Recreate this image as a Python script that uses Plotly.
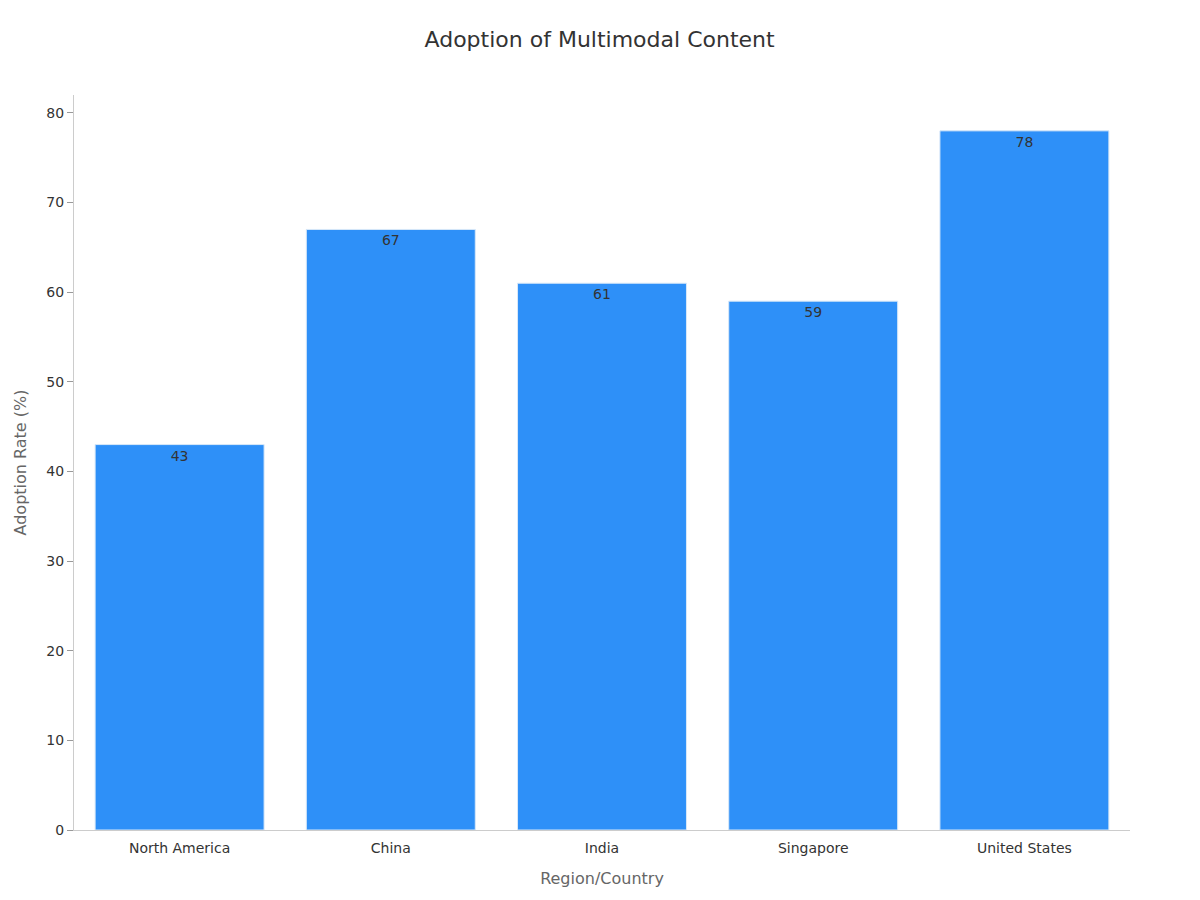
import plotly.graph_objects as go

regions = ["North America", "China", "India", "Singapore", "United States"]
adoption = [43, 67, 61, 59, 78]

fig = go.Figure(go.Bar(
    x=regions, y=adoption, text=adoption, textposition="inside",
    insidetextanchor="end", textfont=dict(color="#333333", size=14),
    marker=dict(color="#2E90F8", line=dict(color="#D8E8F8", width=1)),
    width=0.8,
))
fig.update_layout(
    width=1200, height=900,
    font=dict(family="DejaVu Sans", color="#333333", size=13),
    title=dict(text="Adoption of Multimodal Content", x=0.493, y=0.974,
               font=dict(size=22, color="#333333")),
    plot_bgcolor="white", paper_bgcolor="white",
    margin=dict(l=59, r=78, t=87, b=78),
    showlegend=False,
)
fig.update_xaxes(title=dict(text="Region/Country", font=dict(color="#666666", size=16), standoff=18),
                 showline=True, linecolor="#CCCCCC", ticks="outside", ticklen=5,
                 tickcolor="rgba(0,0,0,0)", tickfont=dict(size=14))
fig.update_yaxes(title=dict(text="Adoption Rate (%)", font=dict(color="#666666", size=16)),
                 range=[0, 82], dtick=10, showline=True, linecolor="#CCCCCC",
                 ticks="outside", ticklen=6, tickcolor="#999999", showgrid=False,
                 zeroline=False, tickfont=dict(size=14))
fig.write_html("out.html")
